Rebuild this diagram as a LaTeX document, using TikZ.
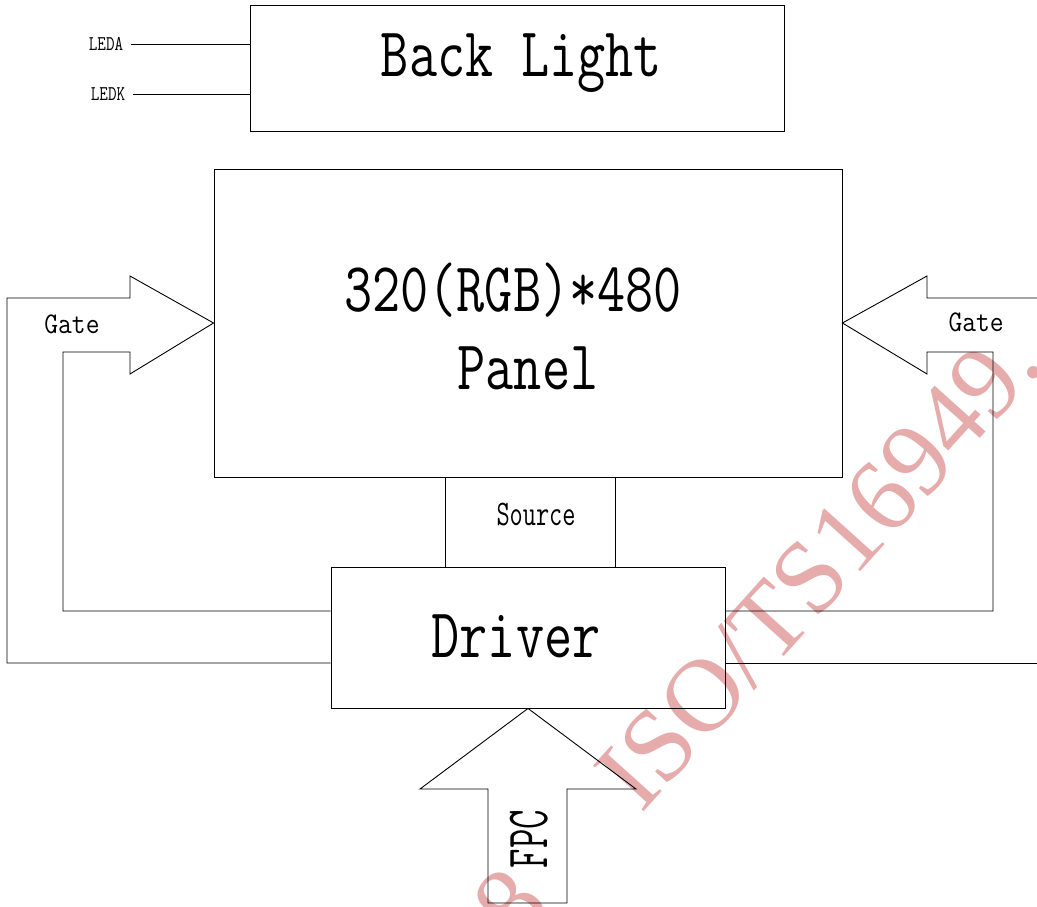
\documentclass[tikz,border=0pt]{standalone}
\usepackage{fontspec}
\newfontfamily\wmfont{Liberation Serif}
\definecolor{wmpink}{RGB}{230,172,172}
\newcommand\sjt[3]{\scalebox{#1}[1]{\ttfamily\fontsize{#2}{#2}\selectfont #3}}
\begin{document}
\begin{tikzpicture}[x=1pt,y=-1pt,
  box/.style={draw,line width=0.9pt,inner sep=0pt},
  lbl/.style={inner sep=0pt,anchor=base},
  wire/.style={line width=0.9pt},
  wm/.style={text=wmpink,inner sep=0pt,font=\wmfont\fontsize{104}{104}\selectfont,anchor=base east,rotate=48}]
\useasboundingbox (0,0) rectangle (1037,907);
\clip (0,0) rectangle (1037,907);
% watermark
\node[wm] (wm1) at (1046,366) {ISO/TS16949.};
\node[wm] (wm2) at (553,908) {2008};
% boxes
\node[box,minimum width=534pt,minimum height=126pt] (backlight) at (517,68) {};
\node[box,minimum width=628pt,minimum height=308pt] (panel) at (528,323) {};
\node[box,minimum width=394pt,minimum height=141pt] (driver) at (528,637.5) {};
% texts
\node[lbl] (bltext) at (521.5,77) {\sjt{0.78}{70}{Back Light}};
\node[lbl] (ptext1) at (513,311) {\sjt{0.78}{70}{320(RGB)*480}};
\node[lbl] (ptext2) at (528,389) {\sjt{0.78}{70}{Panel}};
\node[lbl] (dtext) at (516,657) {\sjt{0.78}{70}{Driver}};
\node[lbl] (gatel) at (72,333) {\sjt{0.89}{30}{Gate}};
\node[lbl] (gater) at (976,331) {\sjt{0.89}{30}{Gate}};
\node[lbl] (source) at (536,525) {\sjt{0.71}{36}{Source}};
\node[lbl] (leda) at (106,51) {\sjt{0.79}{21}{LEDA}};
\node[lbl] (ledk) at (108,101) {\sjt{0.79}{21}{LEDK}};
\node[lbl,rotate=90] (fpc) at (547,839) {\sjt{0.63}{60}{FPC}};
% LED wires
\draw[wire] ([xshift=8pt]leda.east) -- (leda.east -| backlight.west);
\draw[wire] ([xshift=8pt]ledk.east) -- (ledk.east -| backlight.west);
% source wires
\draw[wire] (panel.south -| 445,0) -- (driver.north -| 445,0);
\draw[wire] (panel.south -| 615,0) -- (driver.north -| 615,0);
% left gate arrow
\draw[wire] (driver.west |- 0,611) -| (63,352) -- (130,352) -- (130,374) -- (panel.west)
  -- (130,276) -- (130,298) -| (7,663) -- (driver.west |- 0,663);
% right gate arrow
\draw[wire] (driver.east |- 0,611) -| (993,352) -- (927,352) -- (927,374) -- (panel.east)
  -- (927,276) -- (927,298) -- (1040,298);
\draw[wire] (driver.east |- 0,663) -- (1040,663);
% FPC arrow
\draw[wire] (driver.south) -- (636,789) -- (567,789) -- (567,903) -- (488,903) -- (488,789) -- (420,789) -- cycle;
\end{tikzpicture}
\end{document}
